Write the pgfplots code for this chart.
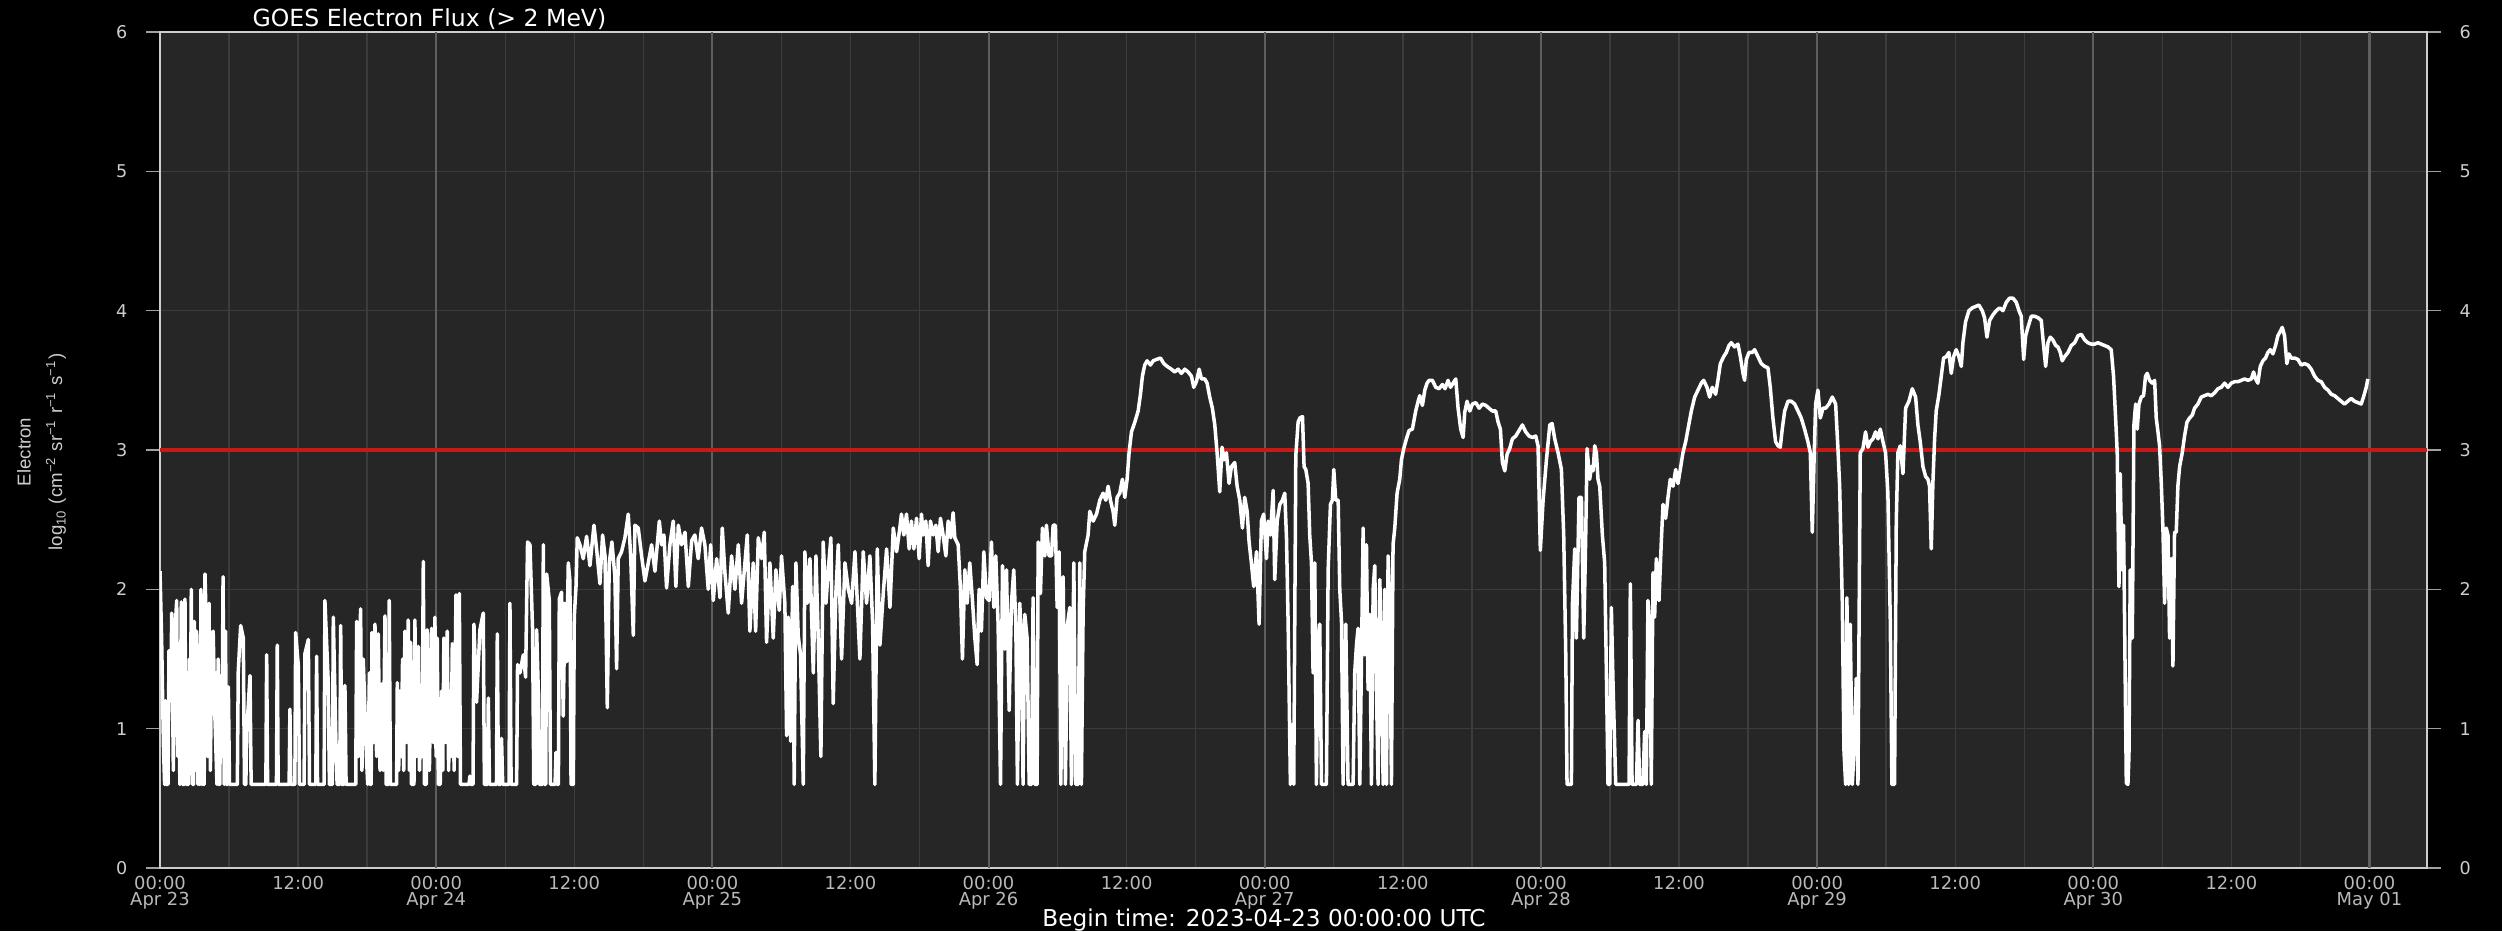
\documentclass[border=0pt]{standalone}
\usepackage{fontspec}
\setmainfont{DejaVu Sans}
\newfontfamily\labelfont{Liberation Sans}
\usepackage{pgfplots}
\pgfplotsset{compat=1.18}
\definecolor{bgplot}{RGB}{38,38,38}
\definecolor{gridminor}{RGB}{60,60,60}
\definecolor{gridday}{RGB}{95,95,95}
\definecolor{spine}{RGB}{205,205,205}
\definecolor{ticklab}{RGB}{205,205,205}
\definecolor{xlab}{RGB}{185,185,185}
\definecolor{tickmark}{RGB}{160,160,160}
\definecolor{thresh}{RGB}{200,25,25}

\pgfplotstableread{
x y
0.00 2.13
0.14 1.65
0.30 0.88
0.40 0.6
0.47 1.2
0.52 0.6
0.70 0.6
0.78 1.56
0.93 1.2
1.02 1.83
1.16 0.7
1.30 1.69
1.45 1.92
1.55 0.8
1.62 1.28
1.73 0.6
1.85 1.91
1.95 0.6
2.10 0.6
2.17 1.93
2.27 0.6
2.35 1.4
2.40 0.6
2.47 0.6
2.55 1.50
2.62 0.8
2.72 2.0
2.82 0.6
2.92 0.6
2.98 1.77
3.08 0.7
3.18 1.70
3.30 0.6
3.39 1.6
3.43 0.6
3.48 0.6
3.56 2.0
3.66 0.6
3.75 1.8
3.79 0.6
3.84 0.6
3.91 2.11
4.05 1.65
4.15 0.8
4.26 1.9
4.38 0.7
4.49 1.55
4.62 1.7
4.78 1.06
4.95 0.6
5.05 1.5
5.10 0.6
5.20 0.6
5.27 1.38
5.38 0.8
5.48 2.09
5.58 0.6
5.70 1.7
5.76 0.6
5.86 0.6
5.94 1.3
6.04 0.6
6.72 0.6
6.80 1.41
7.01 1.74
7.24 1.65
7.34 0.6
7.46 0.6
7.53 0.97
7.82 1.38
7.92 0.6
9.20 0.6
9.27 1.53
9.35 0.6
10.12 0.6
10.19 1.6
10.27 0.6
11.22 0.6
11.29 1.14
11.37 0.6
11.72 0.6
11.79 1.69
12.02 1.45
12.12 0.6
12.52 0.6
12.60 1.54
12.89 1.64
12.99 0.6
13.54 0.6
13.61 1.52
13.69 0.6
14.26 0.6
14.33 1.92
14.62 1.33
14.72 0.6
14.98 0.6
15.06 1.8
15.29 0.9
15.39 0.6
15.62 0.6
15.70 1.74
15.80 0.6
15.99 0.6
16.07 1.31
16.17 0.6
17.01 0.6
17.09 1.77
17.25 0.8
17.43 1.86
17.55 0.7
17.66 1.5
17.95 0.78
18.05 0.6
18.20 1.4
18.25 0.6
18.35 0.6
18.42 1.69
18.55 0.9
18.68 1.75
18.82 0.8
18.97 1.68
19.12 0.7
19.26 1.32
19.40 0.7
19.55 1.81
19.65 0.6
19.85 0.6
19.92 1.92
20.02 0.6
20.56 0.6
20.62 1.33
20.74 0.7
20.85 1.27
20.96 0.8
21.08 1.5
21.18 0.7
21.28 1.7
21.43 0.9
21.57 1.78
21.68 0.7
21.78 1.62
21.85 0.6
22.07 0.6
22.15 1.78
22.30 0.8
22.44 1.59
22.55 0.7
22.65 1.06
22.77 0.8
22.88 2.2
22.98 0.6
23.14 0.6
23.22 1.71
23.41 0.7
23.60 1.72
23.75 0.9
23.89 1.8
23.99 0.8
24.09 1.65
24.19 0.6
24.35 0.6
24.47 1.27
24.57 0.7
24.67 1.65
24.82 0.9
24.96 1.7
25.08 0.7
25.19 1.27
25.30 0.8
25.40 1.61
25.56 0.7
25.72 1.96
25.87 0.8
26.01 1.97
26.11 0.6
26.85 0.6
26.93 0.66
27.01 0.6
27.20 0.6
27.28 1.75
27.51 1.19
27.80 1.71
28.09 1.83
28.19 0.6
28.45 0.6
28.53 1.22
28.63 0.6
29.24 0.6
29.31 1.68
29.41 0.6
29.60 0.6
29.68 0.93
29.78 0.6
30.33 0.6
30.41 1.9
30.51 0.6
30.99 0.6
31.07 1.46
31.28 1.40
31.57 1.53
31.77 1.37
31.94 2.34
32.15 2.32
32.38 1.70
32.48 0.6
32.65 0.6
32.73 1.71
32.87 1.28
32.97 0.6
33.23 0.6
33.31 2.32
33.41 0.6
33.52 0.6
33.60 2.11
33.83 1.92
33.93 0.6
34.33 0.6
34.41 0.83
34.50 0.6
34.62 0.6
34.70 1.93
34.90 1.98
35.04 1.09
35.19 1.9
35.33 1.48
35.48 2.19
35.62 2.06
35.72 0.6
35.92 0.6
36.00 1.8
36.15 2.02
36.26 2.37
36.49 2.32
36.78 2.22
37.07 2.38
37.36 2.17
37.71 2.46
37.94 2.29
38.23 2.04
38.46 2.39
38.67 2.24
38.87 1.15
39.04 2.19
39.27 2.34
39.53 2.09
39.68 1.43
39.82 2.22
40.11 2.27
40.40 2.37
40.69 2.54
40.90 2.24
41.13 1.67
41.27 2.46
41.56 2.44
41.85 2.24
42.14 2.06
42.43 2.19
42.72 2.32
43.01 2.13
43.39 2.49
43.59 2.32
43.79 2.39
44.02 2.01
44.31 2.32
44.60 2.49
44.83 2.02
45.04 2.46
45.33 2.32
45.62 2.41
45.91 2.02
46.20 2.35
46.48 2.39
46.77 2.22
47.06 2.44
47.35 2.32
47.64 2.0
47.85 2.32
48.08 1.92
48.37 2.22
48.66 1.94
48.86 2.44
49.09 2.12
49.38 1.83
49.67 2.24
49.96 2.0
50.25 2.32
50.54 1.9
50.83 2.19
51.03 2.39
51.26 1.70
51.55 2.19
51.76 1.70
51.99 2.37
52.28 2.22
52.51 2.41
52.71 1.62
53.00 2.19
53.29 1.65
53.52 2.14
53.81 1.85
54.01 2.24
54.30 1.9
54.45 0.95
54.59 1.8
54.80 0.91
54.97 2.02
55.11 0.6
55.26 2.19
55.46 1.67
55.66 1.53
55.90 0.6
56.04 2.27
56.24 1.9
56.48 2.22
56.77 1.4
57.00 2.24
57.20 1.65
57.43 0.80
57.63 2.34
57.87 1.9
58.07 2.14
58.30 2.37
58.50 1.18
58.73 1.97
58.94 2.32
59.23 1.5
59.52 2.19
59.81 2.0
60.10 1.9
60.39 2.27
60.59 1.92
60.82 1.5
61.11 2.27
61.40 1.9
61.69 2.24
61.92 1.77
62.12 0.6
62.33 2.29
62.56 1.6
62.85 1.97
63.14 2.29
63.43 1.87
63.72 2.44
64.01 2.27
64.29 2.44
64.43 2.54
64.64 2.39
64.87 2.54
65.10 2.29
65.30 2.49
65.51 2.29
65.74 2.51
65.97 2.22
66.17 2.54
66.32 2.39
66.55 2.49
66.75 2.17
66.95 2.49
67.19 2.39
67.42 2.46
67.62 2.27
67.82 2.51
68.05 2.39
68.29 2.24
68.49 2.49
68.72 2.37
68.92 2.55
69.07 2.37
69.36 2.32
69.56 2.0
69.73 1.5
69.94 2.14
70.14 1.9
70.37 2.19
70.60 1.92
70.81 1.65
71.01 1.46
71.18 2.0
71.38 1.7
71.59 2.27
71.82 1.94
72.05 1.92
72.25 2.34
72.46 1.87
72.63 2.24
72.83 1.75
73.04 0.6
73.21 2.17
73.41 1.57
73.56 2.14
73.79 1.13
73.99 1.9
74.19 2.14
74.37 1.75
74.51 0.6
74.71 1.9
74.86 1.65
75.00 0.6
75.15 1.82
75.35 1.65
75.53 0.6
75.73 0.6
75.87 1.94
76.02 0.6
76.22 0.6
76.31 2.34
76.51 1.97
76.68 2.44
76.89 2.24
77.03 2.46
77.26 2.24
77.47 2.24
77.61 2.46
77.81 2.46
77.96 1.87
78.13 2.27
78.28 0.6
78.48 2.09
78.68 0.6
78.86 1.75
79.06 1.87
79.20 0.6
79.41 2.19
79.58 0.6
79.78 0.6
79.93 2.19
80.07 0.6
80.22 1.85
80.36 2.27
80.65 2.39
80.80 2.56
81.09 2.49
81.38 2.54
81.67 2.64
81.95 2.69
82.19 2.64
82.39 2.74
82.59 2.64
82.82 2.56
82.97 2.46
83.17 2.66
83.40 2.69
83.63 2.79
83.84 2.66
84.04 2.79
84.21 2.98
84.42 3.13
84.71 3.2
85.00 3.28
85.20 3.4
85.37 3.53
85.57 3.61
85.78 3.64
86.07 3.61
86.30 3.64
86.59 3.65
86.94 3.66
87.23 3.62
87.52 3.60
87.89 3.58
88.18 3.56
88.47 3.58
88.76 3.55
89.05 3.58
89.34 3.56
89.63 3.53
89.83 3.45
90.06 3.49
90.30 3.58
90.50 3.51
90.79 3.51
90.99 3.48
91.22 3.38
91.45 3.30
91.66 3.18
91.86 2.98
92.09 2.70
92.29 3.02
92.47 2.93
92.67 2.98
92.90 2.76
93.10 2.88
93.39 2.91
93.60 2.74
93.83 2.64
94.06 2.44
94.26 2.66
94.47 2.56
94.64 2.34
94.84 2.19
95.04 2.02
95.28 2.27
95.51 1.75
95.71 2.49
95.91 2.54
96.15 2.22
96.29 2.49
96.50 2.39
96.73 2.71
96.87 2.07
97.08 2.49
97.31 2.61
97.54 2.64
97.74 2.69
97.89 2.37
98.03 1.77
98.23 0.6
98.41 1.03
98.52 0.6
98.70 2.96
98.90 3.2
99.05 3.23
99.28 3.24
99.42 2.88
99.57 2.86
99.77 2.76
99.91 2.39
100.06 2.19
100.20 1.4
100.35 2.19
100.49 0.6
100.64 1.62
100.78 1.75
100.93 0.6
101.36 0.6
101.51 2.14
101.71 2.61
101.88 2.64
102.00 2.86
102.17 2.64
102.38 2.64
102.52 2.0
102.67 1.77
102.81 0.6
103.04 1.75
103.24 0.6
103.68 0.6
103.82 1.4
103.97 1.6
104.11 1.72
104.26 0.6
104.40 1.46
104.55 2.44
104.69 1.53
104.84 2.32
104.98 1.28
105.13 1.82
105.27 0.6
105.42 2.0
105.56 2.17
105.71 1.28
105.85 0.6
106.00 2.07
106.14 1.53
106.29 0.6
106.43 2.0
106.58 0.6
106.72 2.24
106.86 1.9
107.01 0.6
107.15 2.32
107.30 2.44
107.50 2.69
107.73 2.79
107.88 2.93
108.08 3.01
108.31 3.08
108.54 3.14
108.83 3.15
109.12 3.28
109.33 3.35
109.47 3.39
109.70 3.32
109.91 3.43
110.11 3.48
110.28 3.50
110.57 3.50
110.86 3.45
111.15 3.44
111.44 3.47
111.67 3.44
111.93 3.50
112.14 3.45
112.37 3.48
112.60 3.51
112.80 3.30
113.03 3.15
113.24 3.09
113.38 3.27
113.58 3.35
113.82 3.28
114.05 3.33
114.34 3.34
114.63 3.30
114.92 3.33
115.21 3.32
115.49 3.30
115.78 3.28
116.07 3.28
116.28 3.20
116.48 3.15
116.65 2.91
116.86 2.85
117.06 2.97
117.29 3.01
117.52 3.08
117.81 3.10
118.10 3.14
118.39 3.18
118.68 3.13
118.97 3.10
119.26 3.09
119.55 3.10
119.75 3.03
119.95 2.28
120.19 2.64
120.48 2.93
120.77 3.18
120.97 3.19
121.20 3.08
121.49 2.98
121.78 2.86
121.98 2.39
122.16 1.53
122.27 0.6
122.65 0.6
122.74 1.9
122.94 2.29
123.08 1.65
123.31 2.66
123.52 2.66
123.72 1.65
123.89 2.37
124.01 3.01
124.24 2.79
124.39 2.88
124.53 2.85
124.68 3.03
124.82 2.98
124.96 2.79
125.11 2.74
125.34 2.39
125.54 2.19
125.69 1.4
125.83 0.6
125.98 0.6
126.12 1.87
126.27 1.31
126.50 0.6
127.66 0.6
127.77 2.04
127.92 0.6
128.30 0.6
128.44 1.06
128.58 0.6
128.87 0.6
129.01 0.98
129.16 0.6
129.30 1.92
129.45 1.70
129.59 0.6
129.74 2.12
129.88 1.8
130.03 2.22
130.26 1.92
130.46 2.34
130.61 2.61
130.84 2.51
131.04 2.66
131.24 2.79
131.48 2.74
131.71 2.86
131.91 2.76
132.11 2.86
132.34 2.98
132.58 3.06
132.78 3.15
133.07 3.28
133.36 3.38
133.65 3.43
133.94 3.48
134.14 3.5
134.43 3.45
134.66 3.38
134.89 3.45
135.18 3.40
135.38 3.50
135.59 3.62
135.88 3.67
136.11 3.70
136.34 3.75
136.54 3.77
136.83 3.74
137.12 3.76
137.33 3.67
137.56 3.55
137.70 3.50
137.85 3.65
138.08 3.70
138.37 3.70
138.57 3.72
138.86 3.67
139.15 3.62
139.44 3.60
139.73 3.59
139.93 3.45
140.16 3.23
140.39 3.06
140.60 3.03
140.80 3.02
140.97 3.15
141.18 3.28
141.47 3.35
141.76 3.35
142.05 3.33
142.34 3.28
142.62 3.23
142.91 3.15
143.20 3.06
143.41 2.98
143.58 2.41
143.73 2.91
143.87 3.33
144.07 3.43
144.28 3.23
144.51 3.30
144.74 3.30
145.03 3.33
145.32 3.38
145.61 3.33
145.81 3.01
145.96 2.74
146.19 1.9
146.33 0.85
146.48 0.6
146.59 1.94
146.74 0.6
146.88 1.75
147.06 0.6
147.26 0.93
147.40 1.36
147.55 0.6
147.75 2.98
147.98 3.01
148.21 3.13
148.42 3.02
148.62 3.06
148.85 3.08
149.08 3.13
149.29 3.08
149.49 3.15
149.72 3.06
149.95 2.98
150.15 2.69
150.36 1.77
150.50 0.6
150.73 0.6
150.88 2.49
151.02 2.98
151.23 3.03
151.46 2.83
151.69 3.30
151.98 3.35
152.27 3.44
152.56 3.38
152.76 3.18
152.96 3.06
153.20 2.88
153.43 2.81
153.63 2.79
153.77 2.74
153.92 2.29
154.06 2.76
154.21 3.08
154.35 3.28
154.59 3.40
154.79 3.53
154.99 3.66
155.22 3.67
155.45 3.70
155.66 3.55
155.86 3.67
156.09 3.72
156.32 3.67
156.53 3.60
156.67 3.77
156.90 3.92
157.19 4.0
157.48 4.02
157.77 4.03
158.06 4.04
158.35 4.0
158.55 3.95
158.76 3.81
158.99 3.93
159.28 3.97
159.57 4.0
159.86 4.02
160.15 4.0
160.44 4.06
160.72 4.09
161.02 4.09
161.31 4.06
161.54 4.0
161.74 3.96
161.95 3.65
162.12 3.82
162.32 3.88
162.61 3.96
162.90 3.96
163.19 3.95
163.48 3.93
163.68 3.75
163.86 3.60
164.06 3.77
164.26 3.81
164.49 3.79
164.73 3.75
164.93 3.74
165.13 3.70
165.30 3.64
165.51 3.67
165.80 3.70
166.09 3.75
166.38 3.77
166.67 3.82
166.96 3.83
167.25 3.79
167.53 3.77
167.82 3.76
168.11 3.76
168.40 3.77
168.69 3.76
168.98 3.75
169.27 3.74
169.56 3.72
169.76 3.53
169.94 3.23
170.08 2.98
170.23 2.02
170.34 2.83
170.49 2.14
170.63 2.46
170.75 1.53
170.87 0.61
171.01 0.6
171.10 0.81
171.21 2.14
171.39 1.65
171.53 3.18
171.68 3.33
171.82 3.15
171.97 3.33
172.17 3.38
172.37 3.39
172.54 3.53
172.69 3.55
172.89 3.50
173.12 3.48
173.33 3.50
173.47 3.23
173.62 3.13
173.76 3.03
173.91 2.76
174.05 2.44
174.20 1.9
174.34 2.44
174.49 2.39
174.63 1.65
174.77 2.22
174.92 1.45
175.06 2.41
175.21 2.41
175.35 2.74
175.50 2.88
175.73 2.98
175.93 3.10
176.14 3.20
176.37 3.23
176.60 3.25
176.80 3.30
177.09 3.33
177.38 3.38
177.67 3.39
177.96 3.40
178.25 3.39
178.54 3.41
178.83 3.44
179.12 3.45
179.41 3.48
179.70 3.45
179.99 3.48
180.28 3.49
180.57 3.49
180.86 3.50
181.15 3.51
181.44 3.50
181.73 3.51
181.93 3.56
182.10 3.51
182.30 3.48
182.51 3.60
182.74 3.64
182.97 3.66
183.17 3.70
183.38 3.72
183.61 3.69
183.84 3.75
184.04 3.82
184.24 3.85
184.42 3.88
184.62 3.82
184.82 3.62
185.00 3.69
185.20 3.66
185.49 3.66
185.78 3.65
186.07 3.61
186.36 3.62
186.65 3.61
186.94 3.58
187.23 3.53
187.52 3.50
187.81 3.49
188.10 3.45
188.39 3.43
188.68 3.40
188.97 3.39
189.25 3.37
189.54 3.35
189.83 3.33
190.12 3.35
190.41 3.37
190.70 3.35
190.99 3.34
191.28 3.33
191.48 3.38
191.72 3.45
191.86 3.51
}\fluxdata

\begin{document}
\begin{tikzpicture}
\useasboundingbox (0,0) rectangle (250.2mm,93.1mm);
\fill[black] (0,0) rectangle (250.2mm,93.1mm);
\begin{axis}[
  at={(16mm,6.3mm)}, anchor=south west,
  width=226.7mm, height=83.6mm, scale only axis,
  xmin=0, xmax=197, ymin=0, ymax=6,
  axis background/.style={fill=bgplot},
  axis line style={spine, line width=0.6pt},
  /pgf/number format/assume math mode=true,
  xtick={0,12,...,192},
  xticklabels={{00:00\\Apr 23},12:00,{00:00\\Apr 24},12:00,{00:00\\Apr 25},12:00,{00:00\\Apr 26},12:00,{00:00\\Apr 27},12:00,{00:00\\Apr 28},12:00,{00:00\\Apr 29},12:00,{00:00\\Apr 30},12:00,{00:00\\May 01}},
  xticklabel style={align=center, font=\fontsize{5.1}{4.6}\selectfont, text=xlab, inner sep=0pt, yshift=0.64mm},
  major x tick style={draw=none},
  minor x tick style={draw=none},
  minor xtick={6,12,18,30,36,42,54,60,66,78,84,90,102,108,114,126,132,138,150,156,162,174,180,186},
  xminorgrids,
  minor x grid style={gridminor, line width=0.4pt},
  ytick={0,...,6},
  ytick pos=both,
  yticklabel pos=left,
  tick align=outside,
  major tick length=1.4mm,
  y tick style={tickmark, line width=0.4pt},
  yticklabel style={font=\fontsize{5}{6}\selectfont, text=ticklab, inner sep=0pt, xshift=-1.8mm},
  ymajorgrids,
  major y grid style={gridminor, line width=0.4pt},
]
\pgfplotsinvokeforeach{24,48,72,96,120,144,168,192}{
  \draw[gridday, line width=0.6pt] (axis cs:#1,0) -- (axis cs:#1,6);
}
\addplot[thresh, line width=0.9pt] coordinates {(0,3) (197,3)};
\addplot[white, line width=1.0pt, line join=round] table[x=x, y=y] {\fluxdata};
\end{axis}
\begin{axis}[
  at={(16mm,6.3mm)}, anchor=south west,
  width=226.7mm, height=83.6mm, scale only axis,
  xmin=0, xmax=197, ymin=0, ymax=6,
  axis line style={draw=none},
  /pgf/number format/assume math mode=true,
  xtick=\empty,
  ytick={0,...,6},
  ytick pos=right,
  yticklabel pos=right,
  tick align=outside,
  major tick length=1.4mm,
  y tick style={draw=none},
  yticklabel style={font=\fontsize{5}{6}\selectfont, text=ticklab, inner sep=0pt, xshift=1.8mm},
]
\addplot[draw=none] coordinates {(0,0)};
\end{axis}
\node[anchor=base west, inner sep=0pt, text=white, font=\fontsize{6.7}{8}\selectfont] at (25.2mm,90.5mm) {GOES Electron Flux (> 2 MeV)};
\node[anchor=base, inner sep=0pt, text=white, font=\fontsize{6.6}{8}\selectfont] at (126.4mm,0.45mm) {Begin time: 2023-04-23 00:00:00 UTC};
\node[rotate=90, inner sep=0pt, text=ticklab, font=\labelfont\fontsize{5.3}{6}\selectfont] at (2.4mm,47.9mm) {Electron};
\node[rotate=90, inner sep=0pt, text=ticklab, font=\labelfont\fontsize{5.3}{6}\selectfont] at (5.6mm,47.9mm) {log\textsubscript{10} (cm\textsuperscript{−2} sr\textsuperscript{−1} r\textsuperscript{−1} s\textsuperscript{−1})};
\end{tikzpicture}
\end{document}
